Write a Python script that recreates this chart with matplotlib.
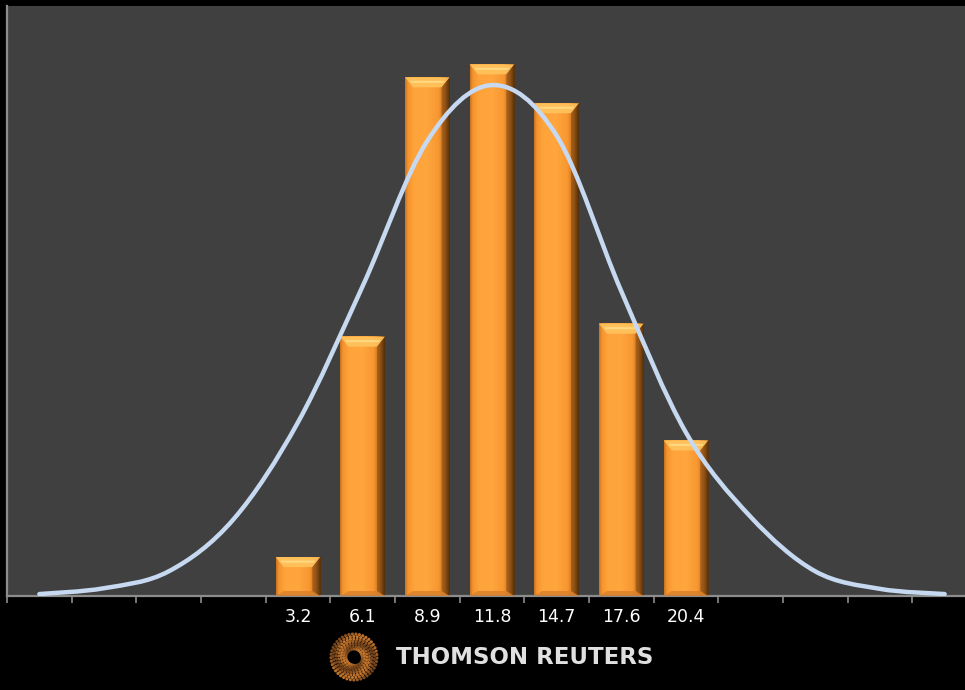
import matplotlib
matplotlib.use("Agg")
import matplotlib.pyplot as plt
import numpy as np
from matplotlib.path import Path
from matplotlib.patches import PathPatch, Polygon

# histogram bins (15 slots, only the middle seven are labelled)
slot_labels = ["", "", "", "", "3.2", "6.1", "8.9", "11.8", "14.7", "17.6", "20.4", "", "", "", ""]
bar_slots = [4, 5, 6, 7, 8, 9, 10]
bar_counts = [3, 20, 40, 41, 38, 21, 12]

# fitted normal curve, one value per slot
curve_values = [0.15, 0.6, 1.9, 5.9, 13.4, 23.9, 35.1, 39.4, 35.5, 23.5, 12.6, 6.1, 1.9, 0.55, 0.15]

W, H = 965, 690
fig = plt.figure(figsize=(W / 100, H / 100), dpi=100, facecolor="black")
ax = fig.add_axes([7 / W, 94 / H, 970 / W, 590 / H])
ax.set_facecolor("#404040")
n = len(slot_labels)
ax.set_xlim(-0.5, n - 0.5)
ax.set_ylim(0, 45.5)

# pixel -> data helpers for the bevel sizes
px_x = n / 970.0
px_y = 45.5 / 590.0

bar_w = 0.69
stops = [0.0, 0.06, 0.2, 0.5, 0.75, 0.9, 1.0]
cols = np.array([
    [0.78, 0.45, 0.13],
    [0.96, 0.58, 0.18],
    [1.00, 0.64, 0.23],
    [1.00, 0.65, 0.24],
    [0.97, 0.59, 0.19],
    [0.72, 0.40, 0.10],
    [0.33, 0.19, 0.05],
])
t = np.linspace(0, 1, 120)
grad = np.stack([np.interp(t, stops, cols[:, c]) for c in range(3)], axis=-1)[None, :, :]

for s, c in zip(bar_slots, bar_counts):
    x0, x1 = s - bar_w / 2, s + bar_w / 2
    ax.imshow(grad, extent=(x0, x1, 0, c), aspect="auto", zorder=2, interpolation="bilinear")
    dx = 8 * px_x
    dt = 10 * px_y
    db = 5 * px_y
    # top bevel
    ax.add_patch(Polygon([(x0, c), (x1, c), (x1 - dx, c - dt), (x0 + dx, c - dt)],
                         closed=True, facecolor="#ffc45e", edgecolor="none", alpha=0.9, zorder=3))
    ax.add_patch(Polygon([(x0 + dx * 0.6, c - dt * 0.35), (x1 - dx * 0.6, c - dt * 0.35),
                          (x1 - dx * 0.8, c - dt * 0.55), (x0 + dx * 0.8, c - dt * 0.55)],
                         closed=True, facecolor="#ffe08c", edgecolor="none", alpha=0.8, zorder=3))
    # bottom bevel
    ax.add_patch(Polygon([(x0, 0), (x1, 0), (x1 - dx, db), (x0 + dx, db)],
                         closed=True, facecolor="#d9802a", edgecolor="none", alpha=0.8, zorder=3))
    # right edge shade
    ax.add_patch(Polygon([(x1, 0), (x1, c), (x1 - dx, c - dt), (x1 - dx, db)],
                         closed=True, facecolor="#4a2a0a", edgecolor="none", alpha=0.35, zorder=3))

# smooth line through the curve values (Catmull-Rom drawn as cubic Beziers)
pts = np.column_stack([np.arange(n, dtype=float), curve_values])
ext = np.vstack([pts[0], pts, pts[-1]])
verts = [tuple(pts[0])]
codes = [Path.MOVETO]
for i in range(n - 1):
    p0, p1, p2, p3 = ext[i], ext[i + 1], ext[i + 2], ext[i + 3]
    c1 = p1 + (p2 - p0) / 6
    c2 = p2 - (p3 - p1) / 6
    verts += [tuple(c1), tuple(c2), tuple(p2)]
    codes += [Path.CURVE4] * 3
ax.add_patch(PathPatch(Path(verts, codes), facecolor="none", edgecolor="#c6d9f0",
                       lw=3.2, capstyle="round", zorder=4))

# axes styling
for side in ("top", "right"):
    ax.spines[side].set_visible(False)
ax.spines["left"].set_color("#8c8c8c")
ax.spines["left"].set_linewidth(1.6)
ax.spines["bottom"].set_color("#8c8c8c")
ax.spines["bottom"].set_linewidth(1.6)
ax.set_yticks([])
ax.set_xticks(np.arange(n))
ax.set_xticklabels(slot_labels, color="white", fontsize=12.5)
ax.tick_params(axis="x", which="major", length=0, pad=9)
ax.set_xticks(np.arange(n + 1) - 0.5, minor=True)
ax.tick_params(axis="x", which="minor", length=5, width=1.2, color="#8c8c8c")

# footer logo
lax = fig.add_axes([329 / W, 8 / H, 50 / W, 50 / H])
lax.set_xlim(-1, 1)
lax.set_ylim(-1, 1)
lax.set_aspect("equal")
lax.axis("off")
for k, r in enumerate(np.linspace(0.32, 0.92, 7)):
    m = int(10 + 34 * r)
    a = np.linspace(0, 2 * np.pi, m, endpoint=False) + k * 0.35
    shade = 0.45 + 0.45 * np.sin(a * 2 + k)
    colors = [(0.45 + 0.35 * s, 0.26 + 0.22 * s, 0.10 + 0.08 * s) for s in shade]
    lax.scatter(r * np.cos(a), r * np.sin(a), s=5, c=colors, linewidths=0)
lax.scatter([0.05], [-0.05], s=60, c="black", linewidths=0)

fig.text(396 / W, 32 / H, "THOMSON REUTERS", color="#e0e0e0", fontsize=16.5,
         fontweight="bold", va="center", ha="left", family="DejaVu Sans")

fig.savefig("out.png", dpi=100, facecolor="black")
